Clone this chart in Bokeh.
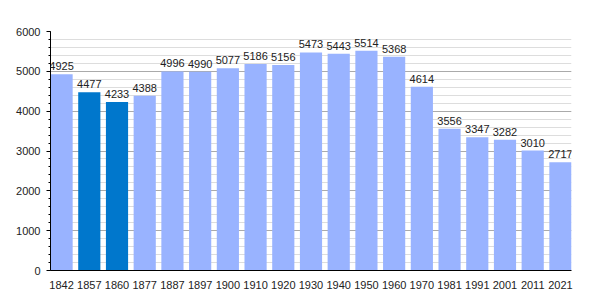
from bokeh.plotting import figure
from bokeh.models import ColumnDataSource, FixedTicker, Range1d, LabelSet
from bokeh.core.properties import value
from bokeh.embed import file_html
from bokeh.resources import INLINE

years = ["1842", "1857", "1860", "1877", "1887", "1897", "1900", "1910", "1920", "1930",
         "1940", "1950", "1960", "1970", "1981", "1991", "2001", "2011", "2021"]
population = [4925, 4477, 4233, 4388, 4996, 4990, 5077, 5186, 5156, 5473,
              5443, 5514, 5368, 4614, 3556, 3347, 3282, 3010, 2717]
highlighted = ["1857", "1860"]

LIGHT = "#99b3ff"
DARK = "#0077cc"
FONT = "Liberation Sans"

xs = [i + 0.4 for i in range(len(years))]
colors = [DARK if y in highlighted else LIGHT for y in years]
source = ColumnDataSource(dict(x=xs, pop=population, color=colors,
                               label=[str(v) for v in population]))

p = figure(width=600, height=300, output_backend="svg", toolbar_location=None,
           x_range=Range1d(0, len(years) - 0.2), y_range=Range1d(0, 6000),
           min_border_left=50, min_border_right=29, min_border_top=31, min_border_bottom=30)
p.outline_line_color = None
p.background_fill_color = "white"

p.vbar(x="x", top="pop", width=0.8, fill_color="color", line_color=None, source=source)

labels = LabelSet(x="x", y="pop", text="label", source=source, text_align="center",
                  text_baseline="alphabetic", y_offset=4, text_font_size="11px",
                  text_font=value(FONT), text_color="#222222")
p.add_layout(labels)

# axes
p.xaxis.ticker = FixedTicker(ticks=xs)
p.xaxis.major_label_overrides = {x: y for x, y in zip(xs, years)}
p.xaxis.major_tick_line_color = None
p.xaxis.minor_tick_line_color = None
p.xaxis.axis_line_color = "black"
p.xaxis.major_label_text_font = FONT
p.xaxis.major_label_text_font_size = "11px"
p.xaxis.major_label_text_color = "#222222"
p.xaxis.major_label_standoff = 4

p.yaxis.ticker = FixedTicker(ticks=[0, 1000, 2000, 3000, 4000, 5000, 6000],
                             minor_ticks=list(range(0, 6001, 200)))
p.yaxis.axis_line_color = "black"
p.yaxis.major_tick_line_color = "black"
p.yaxis.major_tick_out = 4
p.yaxis.major_tick_in = 0
p.yaxis.minor_tick_line_color = "black"
p.yaxis.minor_tick_out = 2
p.yaxis.minor_tick_in = 0
p.yaxis.major_label_text_font = FONT
p.yaxis.major_label_text_font_size = "11px"
p.yaxis.major_label_text_color = "#222222"
p.yaxis.major_label_standoff = 6

p.xgrid.grid_line_color = None
p.ygrid.grid_line_color = "#aaaaaa"
p.ygrid.minor_grid_line_color = "#dddddd"
p.ygrid.level = "underlay"

open("out.html", "w").write(file_html(p, INLINE))
